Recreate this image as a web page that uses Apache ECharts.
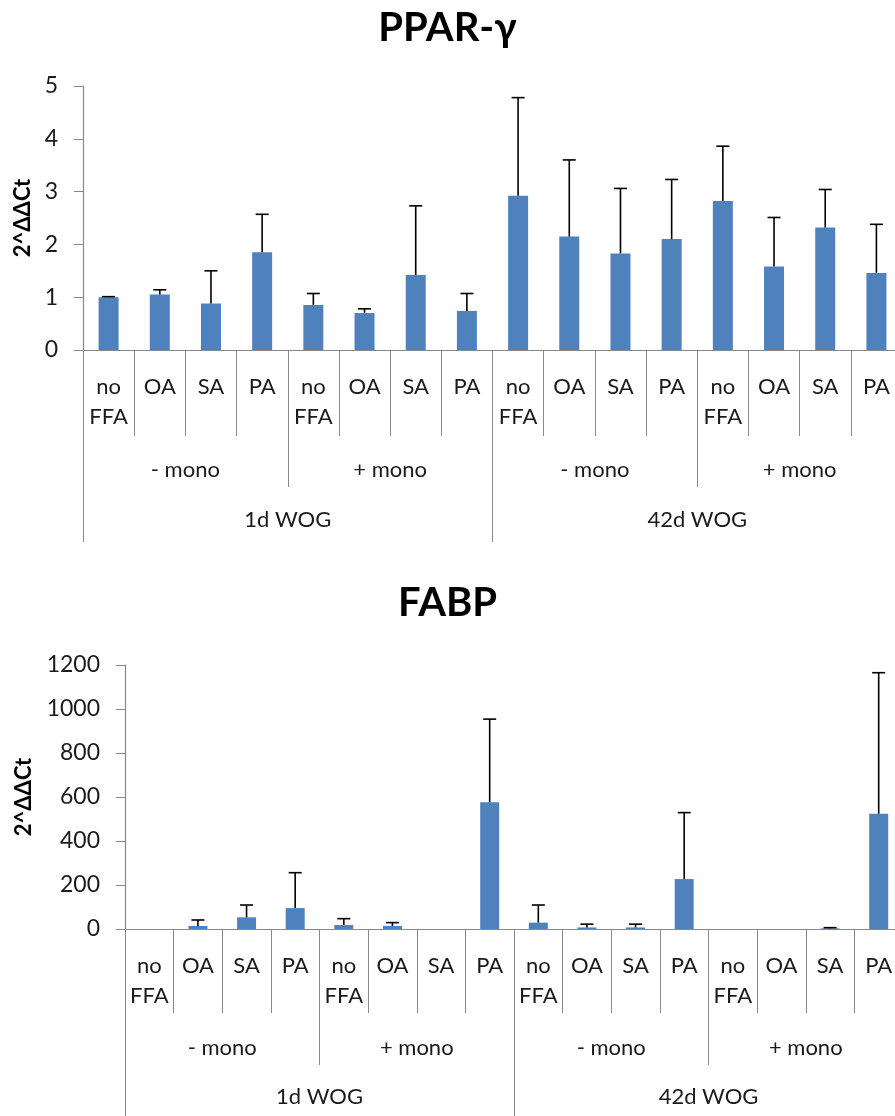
<!DOCTYPE html>
<html><head><meta charset="utf-8">
<script src="https://cdn.jsdelivr.net/npm/echarts@6/dist/echarts.min.js"></script>
<style>html,body{margin:0;padding:0;background:#fff}#c{width:895px;height:1116px}</style>
</head><body><div id="c"></div>
<script>
// ---- data ----
const ffaLabels = ["no\nFFA","OA","SA","PA","no\nFFA","OA","SA","PA","no\nFFA","OA","SA","PA","no\nFFA","OA","SA","PA"];
const monoLabels = ["- mono","+ mono","- mono","+ mono"];
const wogLabels = ["1d WOG","42d WOG"];
const pparMean  = [1.00,1.05,0.88,1.85,0.85,0.70,1.42,0.74,2.92,2.15,1.83,2.10,2.82,1.58,2.32,1.46];
const pparUpper = [1.01,1.14,1.50,2.57,1.07,0.78,2.73,1.07,4.78,3.60,3.06,3.23,3.86,2.51,3.04,2.38];
const fabpMean  = [0,14,53,95,18,14,0,576,29,7,7,227,0,0,3,524];
const fabpUpper = [0,41,109,256,47,29,0,954,109,22,22,529,0,0,6,1165];
const pparTicks = [0,1,2,3,4,5];
const fabpTicks = [0,200,400,600,800,1000,1200];
const titles = ["PPAR-γ","FABP"];
const yName = "2^ΔΔCt";

const FONT = "Lato, 'Noto Sans', sans-serif";
const AXC = '#898989';
const chart = echarts.init(document.getElementById('c'), null, {renderer:'canvas'});

function xAxesFor(g, m1, m2, m3, l1, l2, l3) {
  const lab = {interval:0, fontSize:22, lineHeight:30, color:'#1a1a1a', fontFamily:FONT};
  return [
    {type:'category', gridIndex:g, data:ffaLabels, position:'bottom',
     axisLine:{show:true, lineStyle:{color:AXC, width:1.2}},
     axisTick:{show:true, interval:0, length:l1, lineStyle:{color:AXC}},
     axisLabel:Object.assign({margin:m1}, lab)},
    {type:'category', gridIndex:g, data:monoLabels, position:'bottom',
     axisLine:{show:false},
     axisTick:{show:true, interval:0, length:l2, lineStyle:{color:AXC}},
     axisLabel:Object.assign({}, lab, {margin:m2})},
    {type:'category', gridIndex:g, data:wogLabels, position:'bottom',
     axisLine:{show:false},
     axisTick:{show:true, interval:0, length:l3, lineStyle:{color:AXC}},
     axisLabel:Object.assign({}, lab, {margin:m3})}
  ];
}
function yAxisFor(g, ticks, gap) {
  return {type:'value', gridIndex:g, min:ticks[0], max:ticks[ticks.length-1], interval:ticks[1]-ticks[0],
    axisLine:{show:true, lineStyle:{color:AXC, width:1.2}},
    axisTick:{show:true, length:9, lineStyle:{color:AXC}},
    splitLine:{show:false},
    axisLabel:{margin:25, fontSize:23, color:'#1a1a1a', fontFamily:FONT, formatter:function(v){return String(v);}},
    name:yName, nameLocation:'middle', nameRotate:90, nameGap:gap,
    nameTextStyle:{fontSize:22, fontWeight:'bold', color:'#000', fontFamily:FONT}};
}
function errSeries(xi, yi, mean, upper, capW) {
  return {type:'custom', xAxisIndex:xi, yAxisIndex:yi, z:5,
    data: mean.map((m,i)=>[i, m, upper[i]]),
    renderItem:function(params, api){
      const up = api.value(2);
      if (!(up > 0)) return null;
      const p0 = api.coord([api.value(0), api.value(1)]);
      const p1 = api.coord([api.value(0), up]);
      const st = {stroke:'#000', lineWidth:1.6};
      return {type:'group', children:[
        {type:'line', shape:{x1:p0[0], y1:p0[1], x2:p1[0], y2:p1[1]}, style:st},
        {type:'line', shape:{x1:p1[0]-capW/2, y1:p1[1], x2:p1[0]+capW/2, y2:p1[1]}, style:st}
      ]};
    }};
}

const option = {
  backgroundColor:'#fff',
  animation:false,
  title:[
    {text:titles[0], left:'center', top:8, padding:0, textStyle:{fontSize:40, fontWeight:'bold', color:'#000', fontFamily:FONT}},
    {text:titles[1], left:'center', top:583, padding:0, textStyle:{fontSize:40, fontWeight:'bold', color:'#000', fontFamily:FONT}}
  ],
  grid:[
    {left:83, top:86, width:819, height:264, containLabel:false, outerBoundsMode:'none'},
    {left:125, top:665, width:778, height:264, containLabel:false, outerBoundsMode:'none'}
  ],
  xAxis: xAxesFor(0, 22, 105, 155, 86, 137, 192).concat(xAxesFor(1, 22, 104, 153, 84, 136, 190)),
  yAxis: [yAxisFor(0, pparTicks, 46), yAxisFor(1, fabpTicks, 90)],
  series:[
    {type:'bar', xAxisIndex:0, yAxisIndex:0, data:pparMean, barWidth:20, itemStyle:{color:'#4F81BD'}},
    errSeries(0, 0, pparMean, pparUpper, 13),
    {type:'bar', xAxisIndex:3, yAxisIndex:1, data:fabpMean, barWidth:19, itemStyle:{color:'#4F81BD'}},
    errSeries(3, 1, fabpMean, fabpUpper, 13)
  ]
};
chart.setOption(option);
</script></body></html>
